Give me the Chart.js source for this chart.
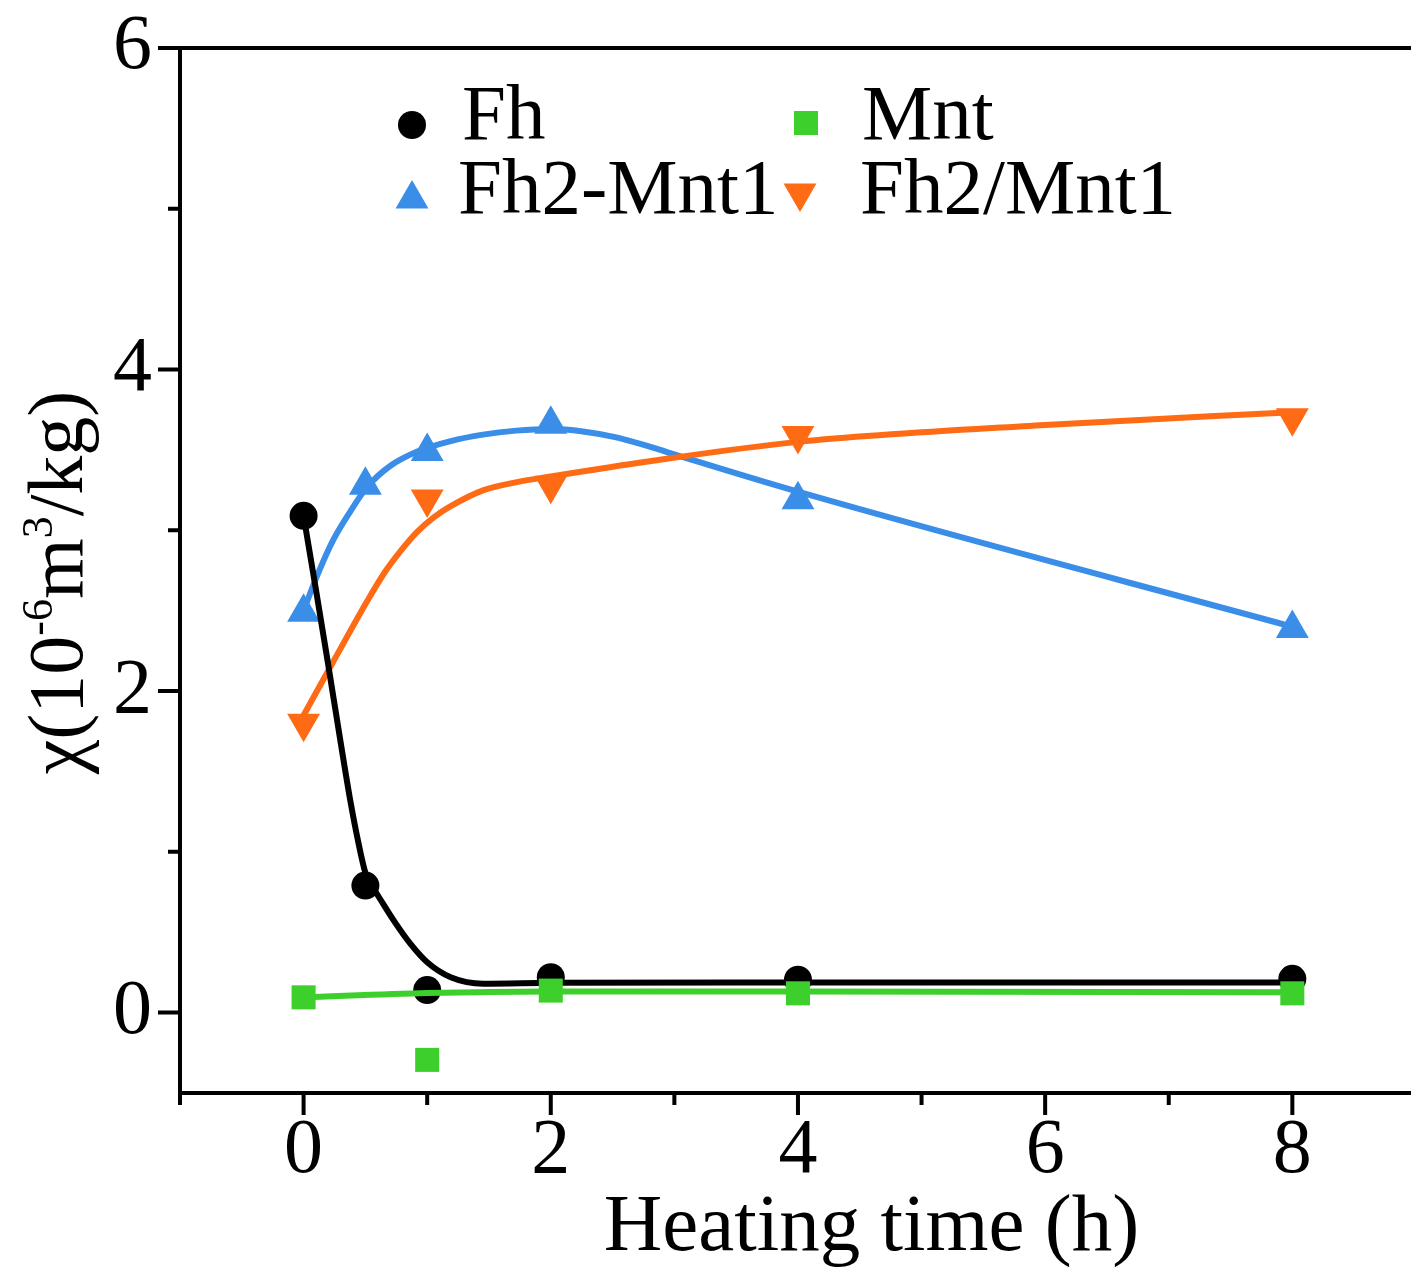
<!DOCTYPE html>
<html>
<head>
<meta charset="utf-8">
<script src="https://cdn.jsdelivr.net/npm/chart.js@4.4.1/dist/chart.umd.min.js"></script>
<style>
  html, body { margin: 0; background: #fff; overflow: hidden; }
  #wrap { width: 1411px; height: 1267px; overflow: hidden; }
  #box { width: 1582px; height: 1267px; }
</style>
</head>
<body>
<div id="wrap"><div id="box"><canvas id="chart"></canvas></div></div>
<script>
const FONT = "'Liberation Serif', 'Times New Roman', serif";
const BLACK = "#000000";
const GREEN = "#3dd02c";
const BLUE = "#3a8ee8";
const ORANGE = "#ff6a14";

// measured points
const fhTimes = [0, 0.5, 1, 2, 4, 8];
const fhValues = [3.09, 0.79, 0.14, 0.22, 0.205, 0.21];
const mntTimes = [0, 1, 2, 4, 8];
const mntValues = [0.095, -0.294, 0.137, 0.12, 0.12];
const fhMntTimes = [0, 0.5, 1, 2, 4, 8];
const fhMntValues = [2.49, 3.28, 3.49, 3.66, 3.19, 2.39];
const fhSlashTimes = [0, 1, 2, 4, 8];
const fhSlashValues = [1.80, 3.195, 3.28, 3.59, 3.70];

// fitted curves
const fhFitX = [0, 0.1, 0.2, 0.3, 0.38, 0.44, 0.5, 0.55, 0.6, 0.73, 0.865, 1.0, 1.19, 1.455, 2, 4, 8];
const fhFitY = [3.09, 2.63, 2.16, 1.68, 1.31, 1.07, 0.87, 0.79, 0.73, 0.572, 0.427, 0.313, 0.22, 0.18, 0.185, 0.188, 0.188];
const mntFitX = [0, 1, 2, 4, 8];
const mntFitY = [0.095, 0.122, 0.132, 0.132, 0.126];
const fhMntFitX = [0, 0.1, 0.24, 0.38, 0.515, 0.7, 0.92, 1.19, 1.45, 1.72, 2.0, 2.26, 2.53, 2.8, 3.05, 4, 8];
const fhMntFitY = [2.50, 2.70, 2.94, 3.12, 3.27, 3.40, 3.49, 3.555, 3.595, 3.62, 3.63, 3.615, 3.578, 3.52, 3.46, 3.24, 2.40];
const fhSlashFitX = [0, 0.245, 0.515, 0.649, 0.784, 0.919, 1.053, 1.19, 1.457, 1.727, 2.0, 2.8, 4, 6, 8];
const fhSlashFitY = [1.85, 2.19, 2.56, 2.73, 2.87, 2.99, 3.08, 3.15, 3.25, 3.30, 3.335, 3.43, 3.55, 3.655, 3.735];

const xTicks = [-1, 0, 1, 2, 3, 4, 5, 6, 7, 8, 9, 10];
const xLabels = [0, 2, 4, 6, 8];
const yTicks = [0, 1, 2, 3, 4, 5, 6];
const yLabels = [0, 2, 4, 6];

function pts(xs, ys) {
    return xs.map((x, i) => ({ x: x, y: ys[i] }));
}

function markers(label, xs, ys, color, style, radius, rotation) {
    return {
        label: label,
        data: pts(xs, ys),
        showLine: false,
        pointStyle: style,
        pointRadius: radius,
        pointHoverRadius: radius,
        pointRotation: rotation || 0,
        pointBackgroundColor: color,
        pointBorderWidth: 0,
        borderColor: color
    };
}

function fit(xs, ys, color) {
    return {
        label: "",
        data: pts(xs, ys),
        borderColor: color,
        borderWidth: 6,
        pointRadius: 0,
        cubicInterpolationMode: "monotone",
        fill: false
    };
}

// outward ticks, long for labelled values and short for the rest
const tickPlugin = {
    id: "ticks",
    afterDraw(chart) {
        const ctx = chart.ctx;
        const a = chart.chartArea;
        const xs = chart.scales.x, ys = chart.scales.y;
        ctx.save();
        ctx.strokeStyle = BLACK;
        ctx.lineWidth = 4;
        ctx.beginPath();
        for (const v of xTicks) {
            const px = xs.getPixelForValue(v);
            const len = xLabels.includes(v) ? 22 : 12;
            ctx.moveTo(px, a.bottom);
            ctx.lineTo(px, a.bottom + len);
        }
        for (const v of yTicks) {
            const py = ys.getPixelForValue(v);
            const len = yLabels.includes(v) ? 22 : 12;
            ctx.moveTo(a.left, py);
            ctx.lineTo(a.left - len, py);
        }
        ctx.stroke();
        ctx.restore();
    }
};

// y title with superscripts
const yTitlePlugin = {
    id: "ytitle",
    afterDraw(chart) {
        const ctx = chart.ctx;
        const a = chart.chartArea;
        const parts = [["χ(10", false], ["-6", true], ["m", false], ["3", true], ["/kg)", false]];
        const big = "78px " + FONT, small = "44px " + FONT;
        ctx.save();
        let total = 0;
        for (const [t, sup] of parts) {
            ctx.font = sup ? small : big;
            total += ctx.measureText(t).width;
        }
        ctx.translate(82, (a.top + a.bottom) / 2 + 12);
        ctx.rotate(-Math.PI / 2);
        ctx.fillStyle = BLACK;
        ctx.textBaseline = "alphabetic";
        let x = -total / 2;
        for (const [t, sup] of parts) {
            ctx.font = sup ? small : big;
            ctx.fillText(t, x, sup ? -30 : 0);
            x += ctx.measureText(t).width;
        }
        ctx.restore();
    }
};

function drawMarker(ctx, style, x, y, r, color) {
    ctx.fillStyle = color;
    ctx.beginPath();
    if (style === "circle") {
        ctx.arc(x, y, r, 0, Math.PI * 2);
    } else if (style === "rect") {
        const s = r * Math.SQRT1_2;
        ctx.rect(x - s, y - s, 2 * s, 2 * s);
    } else {
        const dir = style === "down" ? -1 : 1;
        for (let k = 0; k < 3; k++) {
            const ang = k * 2 * Math.PI / 3;
            const px = x + Math.sin(ang) * r;
            const py = y - dir * Math.cos(ang) * r;
            if (k === 0) ctx.moveTo(px, py); else ctx.lineTo(px, py);
        }
        ctx.closePath();
    }
    ctx.fill();
}

const legendItems = [
    { text: "Fh", style: "circle", r: 14, color: BLACK, mx: 412, my: 125, tx: 462, ty: 118 },
    { text: "Mnt", style: "rect", r: 17, color: GREEN, mx: 806, my: 123, tx: 862, ty: 118 },
    { text: "Fh2-Mnt1", style: "up", r: 19, color: BLUE, mx: 412, my: 199, tx: 458, ty: 192 },
    { text: "Fh2/Mnt1", style: "down", r: 19, color: ORANGE, mx: 800, my: 193, tx: 860, ty: 192 }
];

const legendPlugin = {
    id: "insideLegend",
    afterDraw(chart) {
        const ctx = chart.ctx;
        ctx.save();
        for (const it of legendItems) {
            drawMarker(ctx, it.style, it.mx, it.my, it.r, it.color);
            ctx.fillStyle = BLACK;
            ctx.font = "79px " + FONT;
            ctx.textBaseline = "middle";
            ctx.fillText(it.text, it.tx, it.ty);
        }
        ctx.restore();
    }
};

Chart.defaults.font.family = FONT;
Chart.defaults.color = BLACK;

new Chart(document.getElementById("chart"), {
    type: "line",
    data: {
        datasets: [
            markers("Mnt", mntTimes, mntValues, GREEN, "rect", 17),
            fit(mntFitX, mntFitY, GREEN),
            markers("Fh", fhTimes, fhValues, BLACK, "circle", 14),
            fit(fhFitX, fhFitY, BLACK),
            markers("Fh2/Mnt1", fhSlashTimes, fhSlashValues, ORANGE, "triangle", 19, 180),
            fit(fhSlashFitX, fhSlashFitY, ORANGE),
            markers("Fh2-Mnt1", fhMntTimes, fhMntValues, BLUE, "triangle", 19),
            fit(fhMntFitX, fhMntFitY, BLUE)
        ]
    },
    options: {
        responsive: true,
        maintainAspectRatio: false,
        animation: false,
        layout: { padding: { top: 48, left: 0, right: 0, bottom: 0 } },
        plugins: {
            legend: { display: false },
            tooltip: { enabled: false }
        },
        scales: {
            x: {
                type: "linear",
                position: "bottom",
                min: -1,
                max: 10.19,
                afterBuildTicks: s => { s.ticks = xTicks.map(v => ({ value: v })); },
                afterFit: s => { s.height = 174; },
                ticks: {
                    autoSkip: false,
                    maxRotation: 0,
                    padding: -2,
                    font: { size: 78, lineHeight: 1 },
                    callback: v => xLabels.includes(v) ? String(v) : ""
                },
                grid: { drawOnChartArea: false, drawTicks: true, tickLength: 22, tickColor: "rgba(0,0,0,0)" },
                border: { display: true, width: 4, color: BLACK },
                title: {
                    display: true,
                    text: "Heating time (h)",
                    font: { size: 81, lineHeight: 1 },
                    padding: { top: 0, bottom: -2 }
                }
            },
            x2: {
                type: "linear",
                position: "top",
                min: -1,
                max: 10.19,
                afterFit: s => { s.height = 0; },
                ticks: { display: false },
                grid: { display: false },
                border: { display: true, width: 4, color: BLACK }
            },
            y: {
                type: "linear",
                position: "left",
                min: -0.5,
                max: 6,
                afterBuildTicks: s => { s.ticks = yTicks.map(v => ({ value: v })); },
                afterFit: s => { s.width = 180; },
                ticks: {
                    autoSkip: false,
                    padding: 6,
                    font: { size: 78, lineHeight: 1 },
                    callback: v => yLabels.includes(v) ? String(v) : ""
                },
                grid: { drawOnChartArea: false, drawTicks: true, tickLength: 22, tickColor: "rgba(0,0,0,0)" },
                border: { display: true, width: 4, color: BLACK }
            }
        }
    },
    plugins: [tickPlugin, yTitlePlugin, legendPlugin]
});
</script>
</body>
</html>
